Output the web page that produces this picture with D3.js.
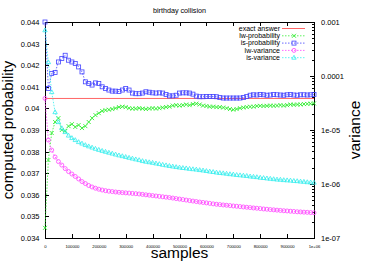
<!DOCTYPE html>
<html>
<head>
<meta charset="utf-8">
<script src="https://cdn.jsdelivr.net/npm/d3@7"></script>
<style>
  body { margin: 0; background: #fff; }
  svg { display: block; font-family: "Liberation Sans", Arial, sans-serif; }
  .axis text { fill: #000; }
  .axis line { stroke: #000; stroke-width: 1; shape-rendering: crispEdges; }
  .axis path { display: none; }
</style>
</head>
<body>
<svg id="chart" width="374" height="262"></svg>
<script>
// x positions of the estimates (one every 12500 samples)
const samples = d3.range(0, 1000001, 12500);
const exactAnswer = 0.04046;

const lwProbability = [
  0.03447, 0.03761, 0.03886, 0.03937, 0.03955, 0.03900, 0.03895, 0.03918, 0.03927, 0.03914,
  0.03923, 0.03909, 0.03918, 0.03937, 0.03955, 0.03969, 0.03978, 0.03988, 0.03992, 0.03994,
  0.03997, 0.04001, 0.04006, 0.04008, 0.04006, 0.04001, 0.03999, 0.03999, 0.04001, 0.03999,
  0.03997, 0.03999, 0.04001, 0.03999, 0.04001, 0.04004, 0.04006, 0.04008, 0.04013, 0.04015,
  0.04013, 0.04015, 0.04018, 0.04015, 0.04020, 0.04022, 0.04018, 0.04013, 0.04011, 0.04008,
  0.04008, 0.04006, 0.04006, 0.04004, 0.04001, 0.03997, 0.03994, 0.03997, 0.04001, 0.04004,
  0.04006, 0.04008, 0.04008, 0.04011, 0.04012, 0.04011, 0.04012, 0.04013, 0.04012, 0.04013,
  0.04015, 0.04013, 0.04015, 0.04018, 0.04017, 0.04018, 0.04018, 0.04020, 0.04021, 0.04022,
  0.04023
];
const isProbability = [
  0.04400, 0.04092, 0.04162, 0.04166, 0.04215, 0.04231, 0.04246, 0.04223, 0.04215, 0.04208,
  0.04192, 0.04169, 0.04123, 0.04115, 0.04108, 0.04118, 0.04115, 0.04100, 0.04092, 0.04085,
  0.04080, 0.04080, 0.04078, 0.04085, 0.04092, 0.04085, 0.04071, 0.04068, 0.04068, 0.04071,
  0.04077, 0.04075, 0.04072, 0.04071, 0.04072, 0.04071, 0.04064, 0.04058, 0.04058, 0.04061,
  0.04071, 0.04072, 0.04072, 0.04071, 0.04066, 0.04057, 0.04054, 0.04054, 0.04055, 0.04055,
  0.04055, 0.04054, 0.04050, 0.04048, 0.04048, 0.04048, 0.04048, 0.04048, 0.04048, 0.04050,
  0.04055, 0.04061, 0.04063, 0.04062, 0.04064, 0.04063, 0.04061, 0.04062, 0.04064, 0.04063,
  0.04062, 0.04061, 0.04063, 0.04064, 0.04062, 0.04061, 0.04063, 0.04063, 0.04062, 0.04063,
  0.04064
];
const lwVariance = [
  3.84e-5, 6.51e-6, 4.25e-6, 3.16e-6, 2.60e-6, 2.24e-6, 1.93e-6, 1.70e-6, 1.53e-6, 1.38e-6,
  1.24e-6, 1.11e-6, 1.02e-6, 9.38e-7, 8.80e-7, 8.36e-7, 8.01e-7, 7.74e-7, 7.52e-7, 7.36e-7,
  7.24e-7, 7.11e-7, 7.02e-7, 6.93e-7, 6.85e-7, 6.79e-7, 6.70e-7, 6.62e-7, 6.53e-7, 6.42e-7,
  6.31e-7, 6.21e-7, 6.10e-7, 6.00e-7, 5.90e-7, 5.80e-7, 5.70e-7, 5.61e-7, 5.49e-7, 5.37e-7,
  5.26e-7, 5.15e-7, 5.04e-7, 4.93e-7, 4.83e-7, 4.73e-7, 4.63e-7, 4.55e-7, 4.47e-7, 4.38e-7,
  4.29e-7, 4.21e-7, 4.16e-7, 4.09e-7, 4.04e-7, 3.99e-7, 3.92e-7, 3.87e-7, 3.82e-7, 3.76e-7,
  3.71e-7, 3.66e-7, 3.60e-7, 3.56e-7, 3.51e-7, 3.45e-7, 3.41e-7, 3.36e-7, 3.32e-7, 3.28e-7,
  3.24e-7, 3.20e-7, 3.17e-7, 3.13e-7, 3.10e-7, 3.06e-7, 3.04e-7, 3.01e-7, 2.99e-7, 2.96e-7,
  2.94e-7
];
const isVariance = [
  7.02e-4, 1.80e-4, 5.02e-5, 2.14e-5, 1.40e-5, 1.08e-5, 9.15e-6, 7.88e-6, 7.09e-6, 6.51e-6,
  5.97e-6, 5.61e-6, 5.26e-6, 4.98e-6, 4.73e-6, 4.49e-6, 4.29e-6, 4.11e-6, 3.95e-6, 3.80e-6,
  3.66e-6, 3.52e-6, 3.39e-6, 3.28e-6, 3.17e-6, 3.06e-6, 2.96e-6, 2.86e-6, 2.77e-6, 2.66e-6,
  2.59e-6, 2.53e-6, 2.47e-6, 2.40e-6, 2.34e-6, 2.27e-6, 2.22e-6, 2.16e-6, 2.11e-6, 2.06e-6,
  2.02e-6, 1.98e-6, 1.95e-6, 1.91e-6, 1.88e-6, 1.85e-6, 1.81e-6, 1.78e-6, 1.74e-6, 1.70e-6,
  1.67e-6, 1.63e-6, 1.60e-6, 1.58e-6, 1.55e-6, 1.52e-6, 1.50e-6, 1.47e-6, 1.45e-6, 1.43e-6,
  1.41e-6, 1.38e-6, 1.36e-6, 1.34e-6, 1.31e-6, 1.29e-6, 1.27e-6, 1.25e-6, 1.23e-6, 1.21e-6,
  1.20e-6, 1.18e-6, 1.17e-6, 1.16e-6, 1.14e-6, 1.13e-6, 1.11e-6, 1.10e-6, 1.08e-6, 1.07e-6,
  1.06e-6
];

const xTicks = [0, 100000, 200000, 300000, 400000, 500000, 600000, 700000, 800000, 900000, 1000000];
const xTickLabels = ["0", "100000", "200000", "300000", "400000", "500000", "600000", "700000", "800000", "900000", "1e+06"];
const yTicks = [0.034, 0.035, 0.036, 0.037, 0.038, 0.039, 0.04, 0.041, 0.042, 0.043, 0.044];
const yTickLabels = ["0.034", "0.035", "0.036", "0.037", "0.038", "0.039", "0.04", "0.041", "0.042", "0.043", "0.044"];
const y2Ticks = [1e-7, 1e-6, 1e-5, 1e-4, 1e-3];
const y2TickLabels = ["1e-07", "1e-06", "1e-05", "0.0001", "0.001"];
const legendNames = ["exact answer", "lw-probability", "is-probability", "lw-variance", "is-variance"];

const margin = {top: 22, right: 60, bottom: 24, left: 45};
const W = 374, H = 262;
const plotW = W - margin.left - margin.right, plotH = H - margin.top - margin.bottom;

const svg = d3.select("#chart");
const g = svg.append("g").attr("transform", "translate(" + margin.left + "," + margin.top + ")");

const x = d3.scaleLinear().domain([0, 1000000]).range([0, plotW]);
const y = d3.scaleLinear().domain([0.034, 0.044]).range([plotH, 0]);
const y2 = d3.scaleLog().domain([1e-7, 1e-3]).range([plotH, 0]);

// axes, ticks pointing inward like gnuplot
g.append("g").attr("class", "axis")
  .attr("transform", "translate(0," + plotH + ")")
  .call(d3.axisBottom(x).tickValues(xTicks).tickFormat((d, i) => xTickLabels[i])
    .tickSizeInner(-4).tickSizeOuter(0).tickPadding(7))
  .selectAll("text").style("font-size", "4.2px");

g.append("g").attr("class", "axis")
  .call(d3.axisTop(x).tickValues(xTicks).tickFormat("").tickSizeInner(-4).tickSizeOuter(0));

g.append("g").attr("class", "axis")
  .call(d3.axisLeft(y).tickValues(yTicks).tickFormat((d, i) => yTickLabels[i])
    .tickSizeInner(-4).tickSizeOuter(0).tickPadding(5.5))
  .selectAll("text").style("font-size", "7.5px");

const minor = [];
for (let e = -7; e < -3; e++) for (let m = 2; m < 10; m++) minor.push(m * Math.pow(10, e));
g.append("g").attr("class", "axis")
  .attr("transform", "translate(" + plotW + ",0)")
  .call(d3.axisRight(y2).tickValues(minor).tickFormat("").tickSizeInner(-2).tickSizeOuter(0));
g.append("g").attr("class", "axis")
  .attr("transform", "translate(" + plotW + ",0)")
  .call(d3.axisRight(y2).tickValues(y2Ticks).tickFormat((d, i) => y2TickLabels[i])
    .tickSizeInner(-4).tickSizeOuter(0).tickPadding(7))
  .selectAll("text").style("font-size", "7.5px");

g.append("rect").attr("width", plotW).attr("height", plotH)
  .attr("fill", "none").attr("stroke", "#000").attr("stroke-width", 1)
  .attr("shape-rendering", "crispEdges");

// series
const colors = ["#ff6666", "#33ee33", "#4444ff", "#ff44ff", "#33eeee"];

g.append("line")
  .attr("x1", x(0)).attr("x2", x(1000000))
  .attr("y1", y(exactAnswer)).attr("y2", y(exactAnswer))
  .attr("stroke", colors[0]).attr("stroke-width", 1);

const series = [
  {vals: lwProbability, sc: y, color: colors[1], shape: "x"},
  {vals: isProbability, sc: y, color: colors[2], shape: "square"},
  {vals: lwVariance, sc: y2, color: colors[3], shape: "circle"},
  {vals: isVariance, sc: y2, color: colors[4], shape: "triangle"}
];

function marker(sel, shape, color) {
  if (shape === "x") {
    sel.append("path").attr("d", "M-2,-2L2,2M-2,2L2,-2").attr("stroke", color).attr("stroke-width", 0.9).attr("fill", "none");
  } else if (shape === "square") {
    sel.append("rect").attr("x", -2).attr("y", -2).attr("width", 4).attr("height", 4)
      .attr("stroke", color).attr("stroke-width", 0.8).attr("fill", "none");
  } else if (shape === "circle") {
    sel.append("circle").attr("r", 2).attr("stroke", color).attr("stroke-width", 0.8).attr("fill", "none");
  } else {
    sel.append("path").attr("d", "M0,-2.4L2.2,1.5L-2.2,1.5Z").attr("stroke", color).attr("stroke-width", 0.8).attr("fill", "none");
  }
}

series.forEach(s => {
  const line = d3.line().x((d, i) => x(samples[i])).y(d => s.sc(d));
  g.append("path").datum(s.vals).attr("d", line)
    .attr("fill", "none").attr("stroke", s.color).attr("stroke-width", 0.8)
    .attr("stroke-dasharray", "1.5,1.5");
  g.append("g").selectAll("g").data(s.vals).join("g")
    .attr("transform", (d, i) => "translate(" + x(samples[i]) + "," + s.sc(d) + ")")
    .each(function() { marker(d3.select(this), s.shape, s.color); });
});

// legend
const lg = g.append("g").attr("transform", "translate(" + (plotW - 34) + ",6.5)");
legendNames.forEach((name, i) => {
  const row = lg.append("g").attr("transform", "translate(0," + (i * 7.3) + ")");
  row.append("text").attr("x", 0).attr("y", 2.3).attr("text-anchor", "end")
    .style("font-size", "7px").text(name);
  row.append("line").attr("x1", 2).attr("x2", 25).attr("y1", 0).attr("y2", 0)
    .attr("stroke", colors[i]).attr("stroke-width", i === 0 ? 1 : 0.8)
    .attr("stroke-dasharray", i === 0 ? null : "1.5,1.5");
  if (i > 0) {
    const m = row.append("g").attr("transform", "translate(14,0)");
    marker(m, series[i - 1].shape, colors[i]);
  }
});

// titles
svg.append("text").attr("x", 179.5).attr("y", 12.5).attr("text-anchor", "middle")
  .style("font-size", "7.2px").text("birthday collision");
svg.append("text").attr("x", 179.5).attr("y", 257.5).attr("text-anchor", "middle")
  .style("font-size", "15.5px").text("samples");
svg.append("text").attr("transform", "translate(12.5,130)rotate(-90)").attr("text-anchor", "middle")
  .style("font-size", "15px").text("computed probability");
svg.append("text").attr("transform", "translate(360,130)rotate(-90)").attr("text-anchor", "middle")
  .style("font-size", "15.5px").text("variance");
</script>
</body>
</html>
